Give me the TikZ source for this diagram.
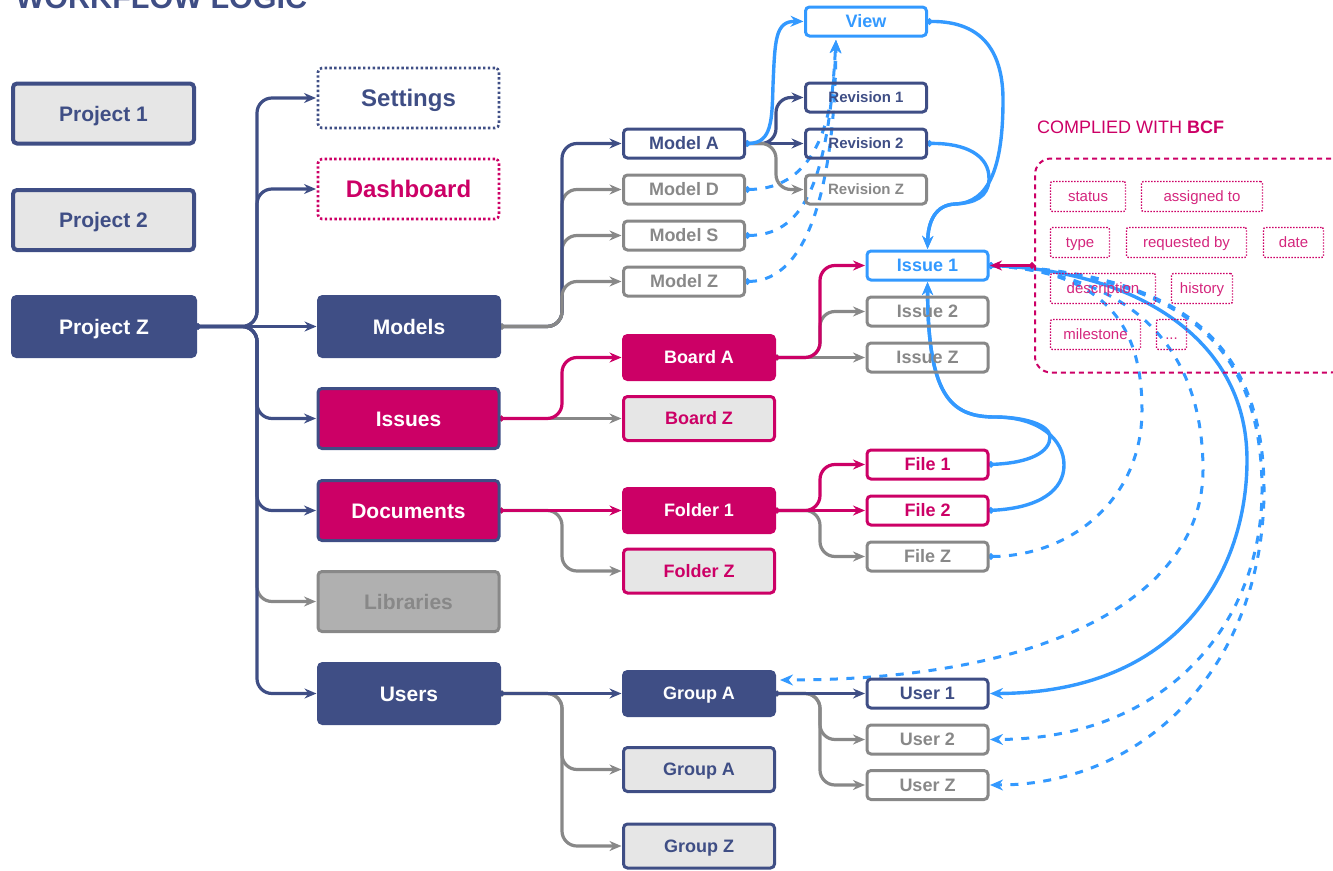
\documentclass[tikz,border=0pt]{standalone}
\usepackage{fontspec}
\setmainfont{Liberation Sans}
\usetikzlibrary{arrows.meta,backgrounds}
\definecolor{navy}{HTML}{3F4E85}
\definecolor{pinkc}{HTML}{CC0066}
\definecolor{bluec}{HTML}{3399FF}
\definecolor{grayc}{HTML}{888888}
\definecolor{lightf}{HTML}{E6E6E6}
\definecolor{libf}{HTML}{B0B0B0}
\newcommand{\fsz}[1]{\fontsize{#1}{#1}\selectfont\bfseries}
\tikzset{
  fs/.style={font=\fsz{#1},text height=#1*0.716pt,text depth=0pt},
  base/.style={rectangle,rounded corners=4,inner sep=0,outer sep=0,align=center,line width=3},
  bigsz/.style={minimum width=181,minimum height=60,fs=21},
  medsz/.style={minimum width=151,minimum height=44,fs=18},
  smallsz/.style={minimum width=121,minimum height=29,fs=18},
  revsz/.style={minimum width=121,minimum height=29,fs=15},
  navyfill/.style={base,fill=navy,draw=navy,text=white},
  pinkfill/.style={base,fill=pinkc,draw=pinkc,text=white},
  pinknavy/.style={base,fill=pinkc,draw=navy,text=white},
  navygrey/.style={base,fill=lightf,draw=navy,text=navy},
  pinkgrey/.style={base,fill=lightf,draw=pinkc,text=pinkc},
  libbox/.style={base,fill=libf,draw=grayc,text=grayc},
  navyline/.style={base,draw=navy,text=navy},
  pinkline/.style={base,draw=pinkc,text=pinkc},
  greyline/.style={base,draw=grayc,text=grayc},
  blueline/.style={base,draw=bluec,text=bluec},
  dotnavy/.style={base,draw=navy,text=navy,dash pattern=on 2.4pt off 2.4pt,line width=2.6},
  dotpink/.style={base,draw=pinkc,text=pinkc,dash pattern=on 2.4pt off 2.4pt,line width=2.6},
  chip/.style={rectangle,rounded corners=2,inner sep=0,outer sep=0,draw=pinkc,text=pinkc!85!white,line width=1.4,dash pattern=on 1.4pt off 1.6pt,minimum height=30,text height=10.7pt,text depth=0pt,font=\fontsize{15}{15}\selectfont},
  conn/.style={line width=3.2,rounded corners=15,{Circle[length=5pt]}-{Stealth[length=12pt,width=10pt]},shorten >=2pt},
  nconn/.style={conn,draw=navy},
  pconn/.style={conn,draw=pinkc},
  gconn/.style={conn,draw=grayc},
  bconn/.style={line width=3.4,draw=bluec,{Circle[length=6pt]}-{Stealth[length=13pt,width=11pt]},shorten >=2pt},
  bplain/.style={line width=3,draw=bluec,{Circle[length=6pt]}-},
  bdash/.style={bconn,line width=3,dash pattern=on 8pt off 8.5pt},
  bdashplain/.style={bplain,dash pattern=on 8pt off 8.5pt},
}
\begin{document}
\begin{tikzpicture}[x=1pt,y=-1pt]
\useasboundingbox (0,0) rectangle (1333,870);

\node[anchor=base west,text=navy,font=\fsz{30.5},inner sep=0] (title) at (15.5,9) {WORKFLOW LOGIC};

% Column 1
\node[navygrey,bigsz,line width=4] (p1) at (103.5,113.5) {Project 1};
\node[navygrey,bigsz,line width=4] (p2) at (103.5,220) {Project 2};
\node[navyfill,bigsz,minimum width=183] (pz) at (104,326.5) {Project Z};

% Column 2
\node[dotnavy,bigsz,fs=24] (settings) at (408.5,98) {Settings};
\node[dotpink,bigsz,fs=24] (dash) at (408.5,189) {Dashboard};
\node[navyfill,bigsz] (models) at (409,326.5) {Models};
\node[pinknavy,bigsz] (issues) at (408.5,418.5) {Issues};
\node[pinknavy,bigsz] (docs) at (408.5,510.5) {Documents};
\node[libbox,bigsz] (libs) at (408.5,601.5) {Libraries};
\node[navyfill,bigsz] (users) at (409,693.5) {Users};

% Column 3
\node[navyline,smallsz] (ma) at (684,143.5) {Model A};
\node[greyline,smallsz] (md) at (684,189.5) {Model D};
\node[greyline,smallsz] (ms) at (684,235.5) {Model S};
\node[greyline,smallsz] (mz) at (684,281.5) {Model Z};
\node[pinkfill,medsz] (ba) at (699,357.5) {Board A};
\node[pinkgrey,medsz] (bz) at (699,418.5) {Board Z};
\node[pinkfill,medsz] (fa) at (699,510.5) {Folder 1};
\node[pinkgrey,medsz] (fz) at (699,571) {Folder Z};
\node[navyfill,medsz] (ga) at (699,693.5) {Group A};
\node[navygrey,medsz] (gb) at (699,769.5) {Group A};
\node[navygrey,medsz] (gz) at (699,846) {Group Z};

% Column 4
\node[blueline,smallsz] (view) at (866,21.5) {View};
\node[navyline,revsz] (r1) at (866,97.5) {Revision 1};
\node[navyline,revsz] (r2) at (866,143.5) {Revision 2};
\node[greyline,revsz] (rz) at (866,189.5) {Revision Z};
\node[blueline,smallsz] (i1) at (927.5,265.5) {Issue 1};
\node[greyline,smallsz] (i2) at (927.5,311.5) {Issue 2};
\node[greyline,smallsz] (iz) at (927.5,357.5) {Issue Z};
\node[pinkline,smallsz] (f1) at (927.5,464.5) {File 1};
\node[pinkline,smallsz] (f2) at (927.5,510.5) {File 2};
\node[greyline,smallsz] (f3) at (927.5,556.5) {File Z};
\node[navyline,smallsz] (u1) at (927.5,693.5) {User 1};
\node[greyline,smallsz] (u2) at (927.5,739.5) {User 2};
\node[greyline,smallsz] (u3) at (927.5,785) {User Z};

% BCF panel
\node[anchor=base west,inner sep=0,text=pinkc,font=\fontsize{18}{18}\selectfont] (bcftitle) at (1037,133) {COMPLIED WITH \textbf{BCF}};
\node[rectangle,rounded corners=16,draw=pinkc,line width=2,dash pattern=on 5pt off 4pt,minimum width=312,minimum height=214,outer sep=0] (bcf) at (1191,265.5) {};
\node[chip,minimum width=75] (c1) at (1088,196.5) {status};
\node[chip,minimum width=121] (c2) at (1202,196.5) {assigned to};
\node[chip,minimum width=59] (c3) at (1080,242.5) {type};
\node[chip,minimum width=120] (c4) at (1186.5,242.5) {requested by};
\node[chip,minimum width=60] (c5) at (1293.5,242.5) {date};
\node[chip,minimum width=105] (c6) at (1103,288.5) {description};
\node[chip,minimum width=61] (c7) at (1202,288.5) {history};
\node[chip,minimum width=90] (c8) at (1095.5,334.5) {milestone};
\node[chip,minimum width=30] (c9) at (1171.5,334.5) {...};

% Free ends and trunks
\coordinate (t1) at (257,0);
\coordinate (t2) at (562,0);
\coordinate (t3) at (820,0);
\coordinate (t4) at (776,0);
\coordinate (viewin) at (836,38);
\coordinate (gain) at (778,680);

\begin{scope}[on background layer]
  % Project Z fan
  \draw[gconn] (pz.east) -- (t1|-pz.east) -- (t1|-libs.west) -- (libs.west);
  \draw[nconn] (pz.east) -- (t1|-pz.east) -- (t1|-settings.west) -- (settings.west);
  \draw[nconn] (pz.east) -- (t1|-pz.east) -- (t1|-dash.west) -- (dash.west);
  \draw[nconn] (pz.east) -- (models.west);
  \draw[nconn] (pz.east) -- (t1|-pz.east) -- (t1|-issues.west) -- (issues.west);
  \draw[nconn] (pz.east) -- (t1|-pz.east) -- (t1|-docs.west) -- (docs.west);
  \draw[nconn] (pz.east) -- (t1|-pz.east) -- (t1|-users.west) -- (users.west);
  % Models fan
  \draw[gconn] (models.east) -- (t2|-models.east) -- (t2|-md.west) -- (md.west);
  \draw[gconn] (models.east) -- (t2|-models.east) -- (t2|-ms.west) -- (ms.west);
  \draw[nconn] (models.east) -- (t2|-models.east) -- (t2|-ma.west) -- (ma.west);
  \draw[gconn] (models.east) -- (t2|-models.east) -- (t2|-mz.west) -- (mz.west);
  % Issues fan
  \draw[gconn] (issues.east) -- (bz.west);
  \draw[pconn] (issues.east) -- (t2|-issues.east) -- (t2|-ba.west) -- (ba.west);
  % Documents fan
  \draw[gconn] (docs.east) -- (t2|-docs.east) -- (t2|-fz.west) -- (fz.west);
  \draw[pconn] (docs.east) -- (fa.west);
  % Users fan
  \draw[gconn] (users.east) -- (t2|-users.east) -- (t2|-gb.west) -- (gb.west);
  \draw[gconn] (users.east) -- (t2|-users.east) -- (t2|-gz.west) -- (gz.west);
  \draw[nconn] (users.east) -- (ga.west);
  % Board A fan
  \draw[gconn] (ba.east) -- (iz.west);
  \draw[gconn] (ba.east) -- (t3|-ba.east) -- (t3|-i2.west) -- (i2.west);
  \draw[pconn] (ba.east) -- (t3|-ba.east) -- (t3|-i1.west) -- (i1.west);
  % Folder 1 fan
  \draw[gconn] (fa.east) -- (t3|-fa.east) -- (t3|-f3.west) -- (f3.west);
  \draw[pconn] (fa.east) -- (f2.west);
  \draw[pconn] (fa.east) -- (t3|-fa.east) -- (t3|-f1.west) -- (f1.west);
  % Group A fan
  \draw[gconn] (ga.east) -- (t3|-ga.east) -- (t3|-u2.west) -- (u2.west);
  \draw[gconn] (ga.east) -- (t3|-ga.east) -- (t3|-u3.west) -- (u3.west);
  \draw[nconn] (ga.east) -- (u1.west);
  % Model A fan
  \draw[nconn] (ma.east) -- (r2.west);
  \draw[nconn] (ma.east) -- (t4|-ma.east) -- (t4|-r1.west) -- (r1.west);
  \draw[gconn] (ma.east) -- (t4|-ma.east) -- (t4|-rz.west) -- (rz.west);
  % Blue solid
  \draw[bconn] (ma.east) .. controls (772,143) and (772,120) .. (773,85) .. controls (775,40) and (775,21) .. (view.west);
  \draw[bconn] (view.east) .. controls (985,21) and (1003,55) .. (1003,100) .. controls (1003,165) and (990,203) .. (955,204) .. controls (935,205) and (928,222) .. (i1.north);
  \draw[bconn] (r2.east) .. controls (965,143) and (990,155) .. (989,180) .. controls (988,197) and (975,203) .. (955,204) .. controls (935,205) and (928,222) .. (i1.north);
  \draw[bconn] (f1.east) .. controls (1030,463) and (1050,452) .. (1050,437) .. controls (1050,425) and (1025,417) .. (995,417) .. controls (950,417) and (928,395) .. (i1.south);
  \draw[bconn] (f2.east) .. controls (1040,508) and (1064,490) .. (1064,465) .. controls (1064,440) and (1040,417) .. (995,417) .. controls (950,417) and (928,395) .. (i1.south);
  \draw[bconn] (i1.east) .. controls (1130,270) and (1247,335) .. (1247,460) .. controls (1247,570) and (1180,693) .. (u1.east);
  % Blue dashed
  \draw[bdash] (md.east) .. controls (800,189) and (833,150) .. (viewin);
  \draw[bdash] (ms.east) .. controls (800,235) and (828,190) .. (viewin);
  \draw[bdash] (mz.east) .. controls (810,281) and (835,180) .. (viewin);
  \draw[bdashplain] (f3.east) .. controls (1070,556) and (1142,500) .. (1142,410) .. controls (1142,320) and (1100,270) .. (i1.east);
  \draw[bdash] (i1.east) .. controls (1140,275) and (1203,355) .. (1203,470) .. controls (1203,590) and (1060,680) .. (gain);
  \draw[bdash] (i1.east) .. controls (1170,275) and (1262,335) .. (1262,490) .. controls (1262,620) and (1170,739) .. (u2.east);
  \draw[bdash] (i1.east) .. controls (1170,272) and (1264,335) .. (1264,490) .. controls (1264,660) and (1150,785) .. (u3.east);
\end{scope}

% Pink link from panel to Issue 1
\draw[draw=pinkc,line width=3,{Circle[length=6pt]}-{Stealth[length=12pt,width=10pt]},shorten >=2pt] (bcf.west) -- (i1.east);
\end{tikzpicture}
\end{document}
